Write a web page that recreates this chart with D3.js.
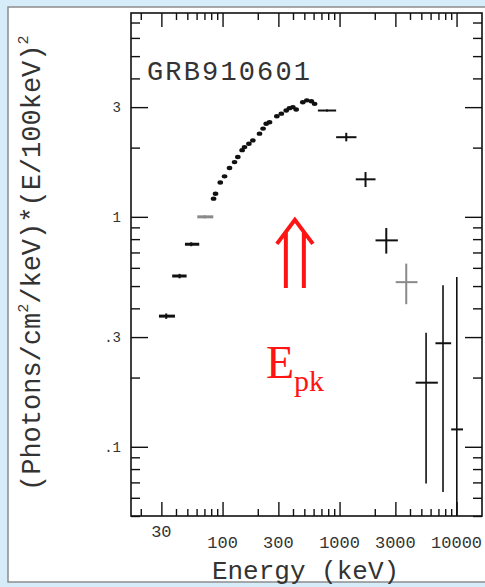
<!DOCTYPE html>
<html>
<head>
<meta charset="utf-8">
<script src="https://cdn.jsdelivr.net/npm/d3@7"></script>
<style>
  html, body { margin: 0; padding: 0; background: #d6ecf9; }
  svg { display: block; }
</style>
</head>
<body>
<div id="chart"></div>
<script>
// spectrum data (keV, photons/cm2/keV * (E/100keV)^2)
const curveE = [83.8, 87.1, 95.6, 104, 114.7, 126.6, 135, 147, 154, 168, 181.6, 207, 222, 236, 252, 291, 318, 350, 373, 399, 426, 485, 525, 574, 612];
const curveF = [1.20, 1.26, 1.41, 1.50, 1.63, 1.73, 1.82, 1.95, 2.01, 2.08, 2.15, 2.30, 2.42, 2.54, 2.58, 2.74, 2.81, 2.90, 2.97, 3.00, 2.93, 3.15, 3.21, 3.18, 3.10];

// binned points with error bars
const binE   = [33, 42.9, 54, 70.2, 781, 1141, 1667, 2508, 3715, 5490, 7660, 10050];
const binELo = [28.6, 37.1, 47.7, 60.8, 653, 935, 1376, 2030, 3020, 4470, 6600, 8990];
const binEHi = [39.2, 49.3, 63.2, 83.3, 935, 1395, 2030, 3150, 4640, 6920, 8990, 11350];
const binF   = [0.37, 0.553, 0.76, 1.0, 2.90, 2.22, 1.456, 0.79, 0.52, 0.19, 0.282, 0.119];
const binFLo = [0.36, 0.54, 0.745, 0.985, 2.87, 2.13, 1.348, 0.692, 0.417, 0.0693, 0.0636, 0.03];
const binFHi = [0.38, 0.565, 0.775, 1.015, 2.93, 2.32, 1.566, 0.894, 0.626, 0.313, 0.504, 0.548];

// axis ticks
const xMajor = [30, 100, 300, 1000, 3000, 10000];
const xLabels = ["30", "100", "300", "1000", "3000", "10000"];
const yMajor = [0.1, 0.3, 1, 3];
const yLabels = [".1", ".3", "1", "3"];

const title = "GRB910601";
const peakE = 415, peakF = 0.97;

const W = 485, H = 587;
const box = {left: 131, right: 482, top: 13, bottom: 516};

const svg = d3.select("#chart").append("svg")
  .attr("width", W)
  .attr("height", H);

// outer white panel
svg.append("rect")
  .attr("x", 8).attr("y", 7)
  .attr("width", 490).attr("height", 575)
  .attr("fill", "#fff")
  .attr("stroke", "#8c8c8c")
  .attr("stroke-width", 1.5);

const x = d3.scaleLog().domain([16.5, 16500]).range([box.left, box.right]);
const y = d3.scaleLog().domain([0.05, 7.7]).range([box.bottom, box.top]);

const xMinor = x.ticks().filter(d => !xMajor.includes(d));
const yMinor = y.ticks().filter(d => !yMajor.some(m => Math.abs(m - d) < 1e-9));

const plotW = box.right - box.left, plotH = box.bottom - box.top;

// draws one set of ticks, all pointing inward
function ticks(axis, vals, size, transform) {
  const g = svg.append("g")
    .attr("transform", transform)
    .call(axis.tickValues(vals).tickSize(size).tickFormat(""));
  g.select(".domain").remove();
  g.selectAll("line").attr("stroke", "#111").attr("stroke-width", 1.4);
  return g;
}

ticks(d3.axisBottom(x), xMinor, -7, `translate(0,${box.bottom})`);
ticks(d3.axisBottom(x), xMajor, -14, `translate(0,${box.bottom})`);
ticks(d3.axisTop(x), xMinor, -7, `translate(0,${box.top})`);
ticks(d3.axisTop(x), xMajor, -14, `translate(0,${box.top})`);
ticks(d3.axisLeft(y), yMinor, -9, `translate(${box.left},0)`);
ticks(d3.axisLeft(y), yMajor, -17, `translate(${box.left},0)`);
ticks(d3.axisRight(y), yMinor, -9, `translate(${box.right},0)`);
ticks(d3.axisRight(y), yMajor, -17, `translate(${box.right},0)`);

// frame
svg.append("rect")
  .attr("x", box.left).attr("y", box.top)
  .attr("width", plotW).attr("height", plotH)
  .attr("fill", "none")
  .attr("stroke", "#111")
  .attr("stroke-width", 1.6);

// tick labels
svg.append("g").selectAll("text")
  .data(xMajor)
  .join("text")
  .attr("x", d => x(d))
  .attr("y", (d, i) => i == 0 ? 537 : 548)
  .attr("text-anchor", "middle")
  .attr("font-family", "Liberation Mono, monospace")
  .attr("font-size", 17)
  .attr("fill", "#333")
  .text((d, i) => xLabels[i]);

svg.append("g").selectAll("text")
  .data(yMajor)
  .join("text")
  .attr("x", 121)
  .attr("y", d => y(d) + 5)
  .attr("text-anchor", "end")
  .attr("font-family", "Liberation Mono, monospace")
  .attr("font-size", 14)
  .attr("fill", "#333")
  .text((d, i) => yLabels[i]);

// axis titles
svg.append("text")
  .attr("x", (213 + 398) / 2)
  .attr("y", 579)
  .attr("text-anchor", "middle")
  .attr("font-family", "Liberation Mono, monospace")
  .attr("font-size", 26)
  .attr("fill", "#333")
  .text("Energy (keV)");

const yt = svg.append("text")
  .attr("transform", "translate(40,491) rotate(-90)")
  .attr("font-family", "Liberation Mono, monospace")
  .attr("font-size", 27)
  .attr("fill", "#333");
yt.append("tspan").text("(Photons/cm");
yt.append("tspan").attr("dy", -12).attr("font-size", 15).text("2");
yt.append("tspan").attr("dy", 12).text("/keV)*(E/100keV)");
yt.append("tspan").attr("dy", -12).attr("font-size", 15).text("2");

svg.append("text")
  .attr("x", 147)
  .attr("y", 80)
  .attr("font-family", "Liberation Mono, monospace")
  .attr("font-size", 27)
  .attr("textLength", 163)
  .attr("fill", "#333")
  .text(title);

// data
svg.append("clipPath").attr("id", "plot-clip")
  .append("rect")
  .attr("x", box.left).attr("y", box.top)
  .attr("width", plotW).attr("height", plotH);

const data = svg.append("g").attr("clip-path", "url(#plot-clip)");

const faint = [3, 8]; // washed-out bins in the scan
const bins = binE.map((e, i) => ({e, lo: binELo[i], hi: binEHi[i], f: binF[i], flo: binFLo[i], fhi: binFHi[i], i}));

data.selectAll(".hbar")
  .data(bins)
  .join("line")
  .attr("x1", d => x(d.lo))
  .attr("x2", d => x(d.hi))
  .attr("y1", d => y(d.f))
  .attr("y2", d => y(d.f))
  .attr("stroke", d => faint.includes(d.i) ? "#8a8a8a" : "#111")
  .attr("stroke-width", d => d.i < 4 ? 3 : 2);

data.selectAll(".vbar")
  .data(bins)
  .join("line")
  .attr("x1", d => x(d.e))
  .attr("x2", d => x(d.e))
  .attr("y1", d => y(d.flo))
  .attr("y2", d => y(d.fhi))
  .attr("stroke", d => faint.includes(d.i) ? "#8a8a8a" : "#111")
  .attr("stroke-width", d => d.i > 8 ? 1.6 : 2);

data.selectAll(".pt")
  .data(curveE)
  .join("ellipse")
  .attr("cx", d => x(d))
  .attr("cy", (d, i) => y(curveF[i]))
  .attr("rx", 2.8)
  .attr("ry", 2.2)
  .attr("fill", "#111");

// red arrow pointing at the peak energy
const ax = x(peakE), ay = y(peakF);
svg.append("path")
  .attr("d", `M${ax - 18},${ay + 24} L${ax},${ay} L${ax + 18},${ay + 24}
              M${ax - 9},${ay + 12} L${ax - 9},${ay + 68}
              M${ax + 9},${ay + 12} L${ax + 9},${ay + 68}`)
  .attr("fill", "none")
  .attr("stroke", "#ff1414")
  .attr("stroke-width", 4);

const ep = svg.append("text")
  .attr("x", 266)
  .attr("y", 378)
  .attr("font-family", "Liberation Serif, serif")
  .attr("font-size", 46)
  .attr("fill", "#ff1414");
ep.append("tspan").text("E");
ep.append("tspan").attr("dy", 13).attr("font-size", 30).text("pk");
</script>
</body>
</html>
